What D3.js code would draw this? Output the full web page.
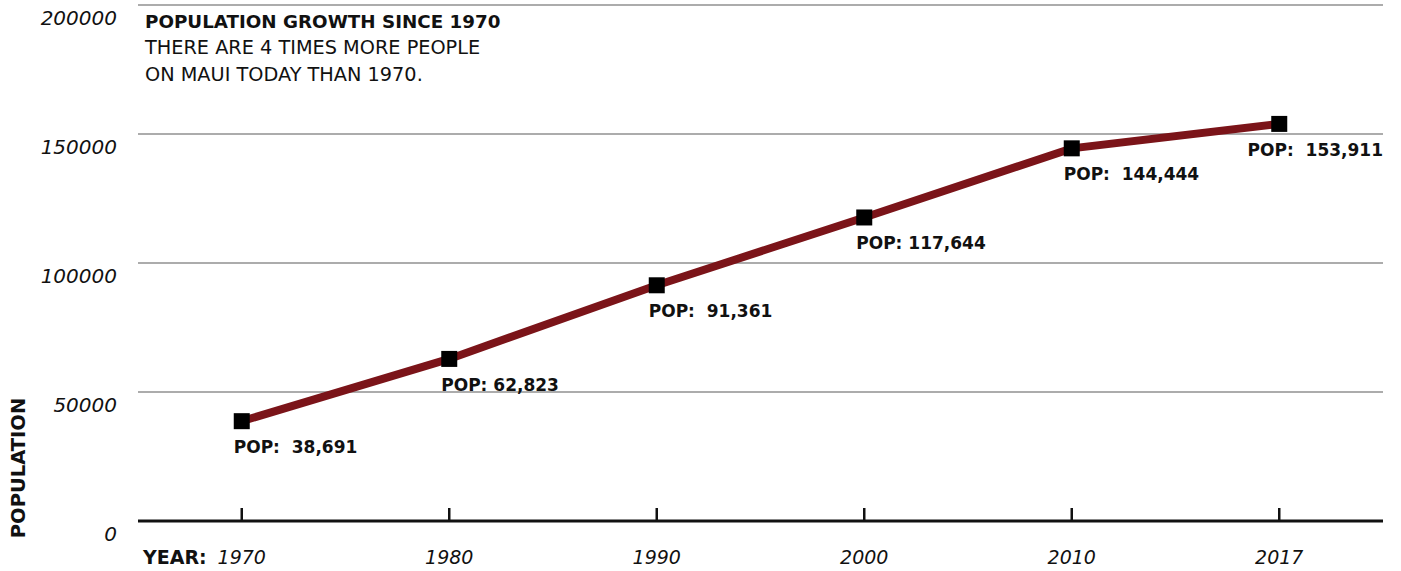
<!DOCTYPE html>
<style>
    body { margin: 0; background: #fff; }
    text { font-family: "DejaVu Sans", sans-serif; fill: #111; }
    .grid line { stroke: #acacac; stroke-width: 2px; }
    .ylab { font-size: 20px; font-style: italic; text-anchor: end; }
    .xlab { font-size: 19px; font-style: italic; text-anchor: middle; }
    .pop { font-size: 17px; font-weight: 700; }
    .year { font-size: 19px; font-weight: 700; }
    .title { font-size: 18.3px; font-weight: 700; }
    .ytitle { font-size: 19.5px; font-weight: 700; }
    .sub { font-size: 19.3px; }
</style>
<body>
<script src="https://cdn.jsdelivr.net/npm/d3@7"></script>
<script>
var years = ["1970", "1980", "1990", "2000", "2010", "2017"];
var population = [38691, 62823, 91361, 117644, 144444, 153911];
var popLabels = ["POP:  38,691", "POP: 62,823", "POP:  91,361", "POP: 117,644", "POP:  144,444", "POP:  153,911"];
var yTicks = [0, 50000, 100000, 150000, 200000];

var W = 1401, H = 571;
var mLeft = 138, mRight = 1383, mTop = 5, mBottom = 521;

var svg = d3.select("body").append("svg")
    .attr("width", W)
    .attr("height", H);

var x = d3.scalePoint().domain(years).range([mLeft, mRight]).padding(0.5);
var y = d3.scaleLinear().domain([0, 200000]).range([mBottom, mTop]);

// gridlines
svg.append("g").attr("class", "grid")
    .selectAll("line").data(yTicks.filter(function(d) { return d > 0; }))
    .enter().append("line")
    .attr("x1", mLeft).attr("x2", mRight)
    .attr("y1", function(d) { return y(d); })
    .attr("y2", function(d) { return y(d); });

// y labels
svg.selectAll(".ylab").data(yTicks).enter().append("text")
    .attr("class", "ylab")
    .attr("x", 117)
    .attr("y", function(d) { return y(d) + 13; })
    .attr("dy", "0.35em")
    .text(function(d) { return d; });

// x axis
svg.append("line")
    .attr("x1", mLeft).attr("x2", mRight)
    .attr("y1", mBottom).attr("y2", mBottom)
    .attr("stroke", "#111").attr("stroke-width", 3);

svg.selectAll(".tick").data(years).enter().append("line")
    .attr("x1", function(d) { return x(d); })
    .attr("x2", function(d) { return x(d); })
    .attr("y1", mBottom - 13).attr("y2", mBottom)
    .attr("stroke", "#111").attr("stroke-width", 2.5);

svg.selectAll(".xlab").data(years).enter().append("text")
    .attr("class", "xlab")
    .attr("x", function(d) { return x(d); })
    .attr("y", 557)
    .attr("dy", "0.35em")
    .text(function(d) { return d; });

svg.append("text").attr("class", "year")
    .attr("x", 143).attr("y", 557).attr("dy", "0.35em")
    .text("YEAR:");

// y axis title
svg.append("text").attr("class", "ytitle")
    .attr("transform", "translate(25,468) rotate(-90)")
    .attr("text-anchor", "middle")
    .text("POPULATION");

// title block
svg.append("text").attr("class", "title").attr("x", 145).attr("y", 28).text("POPULATION GROWTH SINCE 1970");
svg.append("text").attr("class", "sub").attr("x", 145).attr("y", 54).text("THERE ARE 4 TIMES MORE PEOPLE");
svg.append("text").attr("class", "sub").attr("x", 145).attr("y", 81).text("ON MAUI TODAY THAN 1970.");

// line
var data = years.map(function(d, i) { return {year: d, pop: population[i], label: popLabels[i]}; });

svg.append("path").datum(data)
    .attr("fill", "none")
    .attr("stroke", "#7b1419")
    .attr("stroke-width", 8)
    .attr("d", d3.line()
        .x(function(d) { return x(d.year); })
        .y(function(d) { return y(d.pop); }));

svg.selectAll(".mk").data(data).enter().append("rect")
    .attr("x", function(d) { return x(d.year) - 8; })
    .attr("y", function(d) { return y(d.pop) - 8; })
    .attr("width", 16).attr("height", 16)
    .attr("fill", "#000");

svg.selectAll(".popl").data(data).enter().append("text")
    .attr("class", "pop")
    .attr("y", function(d) { return y(d.pop) + 26; })
    .attr("dy", "0.35em")
    .style("white-space", "pre")
    .text(function(d) { return d.label; })
    .attr("x", function(d) {
        var w = this.getComputedTextLength();
        return Math.min(x(d.year) - 8, mRight - w);
    });
</script>
</body>
